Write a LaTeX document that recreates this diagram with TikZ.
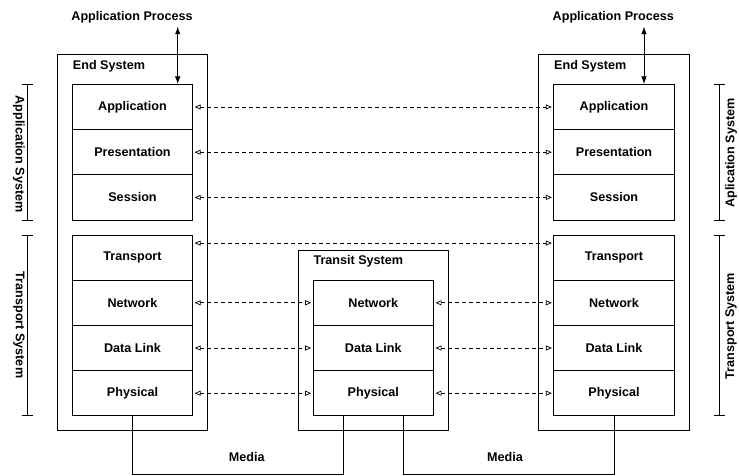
\documentclass[tikz,border=0pt]{standalone}
\usepackage{fontspec}
\setmainfont{Liberation Sans}
\usetikzlibrary{arrows.meta,calc}
\begin{document}
\begin{tikzpicture}[x=1pt,y=-1pt,
  font=\fontsize{12.6}{15}\selectfont\bfseries,
  layer/.style={draw, line width=0.8pt, minimum width=120.5pt, minimum height=45.2pt, inner sep=0pt},
  sysbox/.style={draw, line width=0.8pt, inner sep=0pt},
  lbl/.style={inner sep=0pt, anchor=west},
  peer/.style={line width=0.7pt, dash pattern=on 4pt off 3pt,
    {Triangle[open,length=6pt,width=5pt]}-{Triangle[open,length=6pt,width=5pt]},
    shorten <=1.5pt, shorten >=1.5pt},
  span/.style={line width=0.8pt, {Bar[width=11pt]}-{Bar[width=11pt]}},
  media/.style={line width=0.8pt},
  callarrow/.style={line width=0.8pt, {Latex[length=7.5pt,width=5.5pt]}-{Latex[length=7.5pt,width=5.5pt]}},
]
\useasboundingbox (0,0) rectangle (739,476);

% system frames
\node[sysbox, minimum width=150.4pt, minimum height=376.4pt] (endL) at (132.5,242.5) {};
\node[sysbox, minimum width=150.6pt, minimum height=376pt] (endR) at (613.8,242.3) {};
\node[sysbox, minimum width=150.7pt, minimum height=180pt] (transit) at (373.35,340.7) {};

\node[lbl] (endLlbl) at (72.7,66) {End System};
\node[lbl] (endRlbl) at (554,66) {End System};
\node[lbl] (transitlbl) at (313.3,261.5) {Transit System};

% left protocol stack
\node[layer] (L1) at (132.5,107) {Application};
\node[layer] (L2) at (132.5,152.2) {Presentation};
\node[layer] (L3) at (132.5,197.4) {Session};
\node[layer] (L4) at (132.5,257.6) {Transport};
\node[layer] (L5) at (132.5,302.8) {Network};
\node[layer] (L6) at (132.5,348) {Data Link};
\node[layer] (L7) at (132.5,393.2) {Physical};

% right protocol stack
\node[layer] (R1) at (614,107) {Application};
\node[layer] (R2) at (614,152.2) {Presentation};
\node[layer] (R3) at (614,197.4) {Session};
\node[layer] (R4) at (614,257.6) {Transport};
\node[layer] (R5) at (614,302.8) {Network};
\node[layer] (R6) at (614,348) {Data Link};
\node[layer] (R7) at (614,393.2) {Physical};

% relay stack
\node[layer] (T5) at (373.3,302.8) {Network};
\node[layer] (T6) at (373.3,348) {Data Link};
\node[layer] (T7) at (373.3,393.2) {Physical};

% application processes
\node (procL) at (132,17.3) {Application Process};
\node (procR) at (613.3,17.3) {Application Process};
\draw[callarrow] ([xshift=45.2pt]L1.north |- procL.south) -- ([xshift=45.2pt]L1.north);
\draw[callarrow] ([xshift=30pt]R1.north |- procR.south) -- ([xshift=30pt]R1.north);

% peer protocols
\draw[peer] (L1) -- (R1);
\draw[peer] (L2) -- (R2);
\draw[peer] (L3) -- (R3);
\draw[peer] ([yshift=14.5pt]L4.east) -- ([yshift=14.5pt]R4.west);
\draw[peer] (L5) -- (T5);
\draw[peer] (L6) -- (T6);
\draw[peer] (L7) -- (T7);
\draw[peer] (T5) -- (R5);
\draw[peer] (T6) -- (R6);
\draw[peer] (T7) -- (R7);

% physical media
\coordinate (mediaY) at (0,474.3);
\draw[media] (L7.south) -- (L7.south |- mediaY) -| ([xshift=-30pt]T7.south);
\draw[media] ([xshift=30pt]T7.south) -- ([xshift=30pt]T7.south |- mediaY) -| (R7.south);
\node (media1) at (246.7,456.7) {Media};
\node (media2) at (505,456.7) {Media};

% grouping brackets
\coordinate (brL) at (27,0);
\coordinate (brR) at (719.3,0);
\draw[span] (brL |- L1.north) -- (brL |- L3.south);
\draw[span] (brL |- L4.north) -- (brL |- L7.south);
\draw[span] (brR |- R1.north) -- (brR |- R3.south);
\draw[span] (brR |- R4.north) -- (brR |- R7.south);
\node[rotate=-90] (appsysL) at (19,154) {Application System};
\node[rotate=-90] (trsysL) at (19,325) {Transport System};
\node[rotate=90] (appsysR) at (731,153) {Aplication System};
\node[rotate=90] (trsysR) at (731,326) {Transport System};
\end{tikzpicture}
\end{document}
